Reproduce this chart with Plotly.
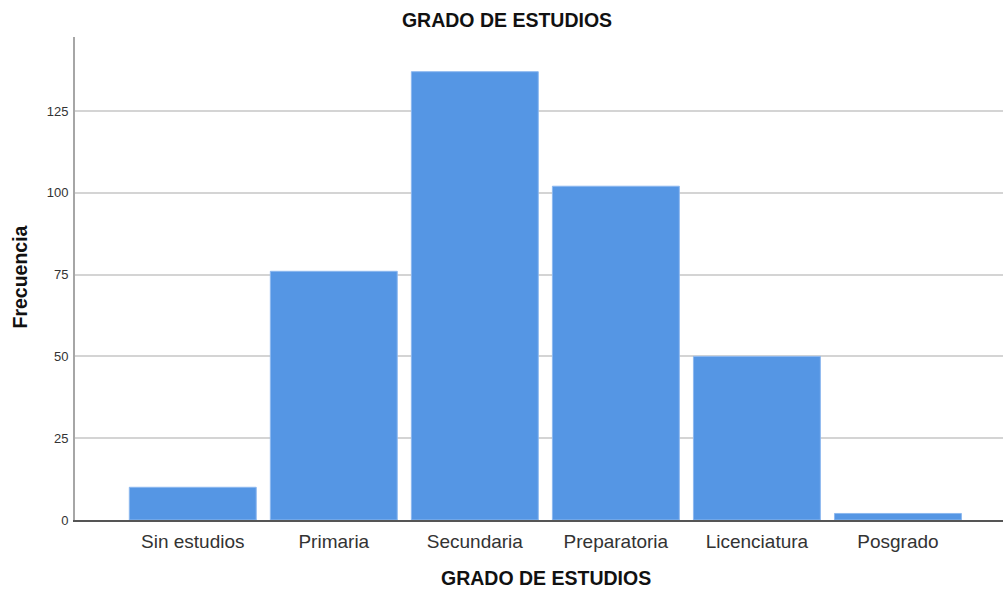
import plotly.graph_objects as go

categories = ["Sin estudios", "Primaria", "Secundaria", "Preparatoria", "Licenciatura", "Posgrado"]
frecuencia = [10, 76, 137, 102, 50, 2]
y_ticks = [0, 25, 50, 75, 100, 125]

fig = go.Figure(go.Bar(
    x=list(range(len(categories))),
    y=frecuencia,
    marker=dict(color="#5596e4", line=dict(color="#8db8ef", width=1)),
    hoverinfo="skip",
))

fig.update_layout(
    width=1003, height=589,
    margin=dict(l=75, r=0, t=37, b=69),
    paper_bgcolor="white", plot_bgcolor="white",
    font=dict(family="Liberation Sans, Arial, sans-serif", color="#222"),
    bargap=0.1,
    showlegend=False,
    title=dict(text="<b>GRADO DE ESTUDIOS</b>", x=0.5055, xanchor="center", y=0.966, yanchor="middle",
               font=dict(size=19.5, color="#111")),
    annotations=[
        dict(text="<b>GRADO DE ESTUDIOS</b>", xref="paper", yref="paper", x=0.5075, y=0,
             yshift=-58, xanchor="center", yanchor="middle", showarrow=False,
             font=dict(size=19.5, color="#111")),
        dict(text="<b>Frecuencia</b>", xref="paper", yref="paper", x=0, y=0.502,
             xshift=-55, xanchor="center", yanchor="middle", textangle=-90, showarrow=False,
             font=dict(size=19.5, color="#111")),
    ],
)
fig.update_xaxes(
    tickvals=list(range(len(categories))), ticktext=categories,
    range=[-0.835, 5.745],
    showline=True, linecolor="#555", linewidth=1.5,
    showgrid=False, zeroline=False, ticks="",
    ticklabelstandoff=3,
    tickfont=dict(size=19, color="#333"),
)
fig.update_yaxes(
    tickvals=y_ticks, range=[0, 147.6],
    showline=True, linecolor="#a6a6a6", linewidth=2,
    showgrid=True, gridcolor="#d4d4d4", gridwidth=1.5,
    zeroline=False, ticks="",
    ticklabelstandoff=2,
    tickfont=dict(size=13, color="#333"),
)

fig.write_html(
    "out.html",
    config={"displayModeBar": False},
    post_script="document.body.style.margin='0';document.body.style.overflow='hidden';",
)
